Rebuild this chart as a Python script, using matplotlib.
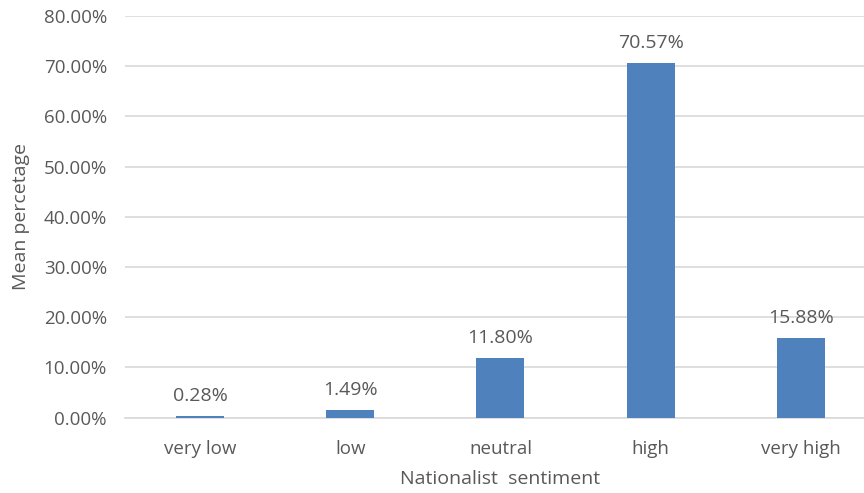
import matplotlib
matplotlib.use("Agg")
import matplotlib.pyplot as plt
from matplotlib.ticker import FuncFormatter, MultipleLocator

categories = ["very low", "low", "neutral", "high", "very high"]
mean_pct = [0.28, 1.49, 11.80, 70.57, 15.88]
value_labels = ["0.28%", "1.49%", "11.80%", "70.57%", "15.88%"]

plt.rcParams["font.family"] = ["Open Sans", "DejaVu Sans"]
text_color = "#595959"
grid_color = "#D9D9D9"
bar_color = "#4F81BD"

fig = plt.figure(figsize=(8.64, 4.93), dpi=100)
ax = fig.add_axes([0.1447, 0.153, 0.869, 0.8145])

x = range(len(categories))
bars = ax.bar(x, mean_pct, width=0.32, color=bar_color, zorder=3)

for rect, lab in zip(bars, value_labels):
    ax.annotate(lab, (rect.get_x() + rect.get_width() / 2, rect.get_height()),
                xytext=(0, 8), textcoords="offset points",
                ha="center", va="bottom", fontsize=14, color=text_color)

ax.set_xlim(-0.5, len(categories) - 0.5)
ax.set_ylim(0, 80)
ax.yaxis.set_major_locator(MultipleLocator(10))
ax.yaxis.set_major_formatter(FuncFormatter(lambda v, _: f"{v:.2f}%"))
ax.grid(axis="y", color=grid_color, linewidth=1.2, zorder=0)

ax.set_xticks(list(x))
ax.set_xticklabels(categories)
ax.tick_params(axis="both", length=0, labelsize=13.5, colors=text_color)
ax.tick_params(axis="x", pad=16)
ax.tick_params(axis="y", pad=13)

for side in ("top", "right", "left"):
    ax.spines[side].set_visible(False)
ax.spines["bottom"].set_color(grid_color)
ax.spines["bottom"].set_linewidth(1.2)

ax.set_xlabel("Nationalist  sentiment", fontsize=14, color=text_color, labelpad=9)
ax.set_ylabel("Mean percetage", fontsize=14, color=text_color, labelpad=10)

fig.savefig("out.png", dpi=100)
